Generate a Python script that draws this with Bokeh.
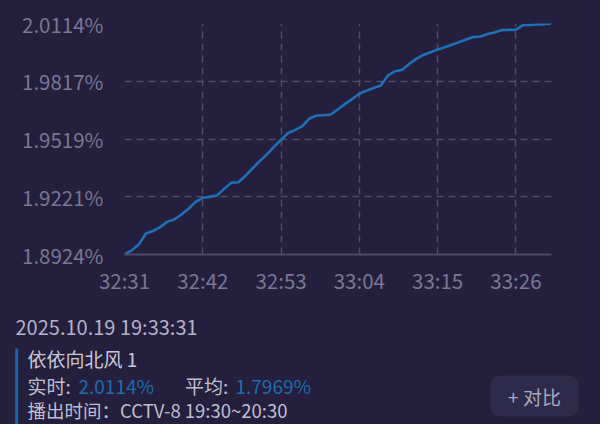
from bokeh.plotting import figure
from bokeh.models import Range1d, FixedTicker, Label, BoxAnnotation
from bokeh.layouts import column
from bokeh.embed import file_html
from bokeh.resources import INLINE

# ---- data ----
start_time = "32:31"
# one sample per second, 32:31 -> 33:31 (share, %)
share = [1.8924, 1.8945, 1.8975, 1.9032, 1.9045, 1.9065, 1.9092, 1.9105, 1.9130, 1.9160,
         1.9195, 1.9216, 1.9221, 1.9228, 1.9262, 1.9294, 1.9296, 1.9330, 1.9368, 1.9405,
         1.9440, 1.9478, 1.9515, 1.9550, 1.9566, 1.9585, 1.9625, 1.9640, 1.9641, 1.9645,
         1.9672, 1.9700, 1.9725, 1.9752, 1.9768, 1.9782, 1.9795, 1.9845, 1.9868, 1.9875,
         1.9905, 1.9932, 1.9952, 1.9966, 1.9980, 1.9992, 2.0005, 2.0018, 2.0032, 2.0044,
         2.0047, 2.0060, 2.0068, 2.0080, 2.0081, 2.0082, 2.0106, 2.0107, 2.0109, 2.0111,
         2.0114]
x_tick_labels = ["32:31", "32:42", "32:53", "33:04", "33:15", "33:26"]
y_tick_labels = ["1.8924%", "1.9221%", "1.9519%", "1.9817%", "2.0114%"]
timestamp = "2025.10.19 19:33:31"
series_name = "依依向北风 1"
avg_value = 1.7969
broadcast = "播出时间：CCTV-8 19:30~20:30"

BG = "#231f3c"
GRID = "#4e4a69"
TICK = "#7a7792"
LINE = "#2070b5"
FONT = "Noto Sans CJK SC"


def to_sec(s):
    m, sec = s.split(":")
    return int(m) * 60 + int(sec)


t0 = to_sec(start_time)
xs = list(range(len(share)))
x_ticks = [to_sec(s) - t0 for s in x_tick_labels]
y_ticks = [float(s.rstrip("%")) for s in y_tick_labels]

p = figure(width=600, height=300, output_backend="svg", toolbar_location=None,
           x_range=Range1d(0, 60), y_range=Range1d(y_ticks[0], y_ticks[-1]),
           min_border_left=124, min_border_right=49, min_border_top=23, min_border_bottom=46,
           background_fill_color=BG, border_fill_color=BG, outline_line_color=None)

p.line(xs, share, line_color=LINE, line_width=2.6)

p.xaxis.ticker = FixedTicker(ticks=x_ticks)
p.xaxis.major_label_overrides = {t: l for t, l in zip(x_ticks, x_tick_labels)}
p.yaxis.ticker = FixedTicker(ticks=y_ticks)
p.yaxis.major_label_overrides = {t: l for t, l in zip(y_ticks, y_tick_labels)}
for ax in (p.xaxis, p.yaxis):
    ax.major_tick_line_color = None
    ax.minor_tick_line_color = None
    ax.major_tick_out = 0
    ax.major_tick_in = 0
    ax.minor_tick_out = 0
    ax.axis_label_standoff = 0
    ax.major_label_text_color = TICK
    ax.major_label_text_font = FONT
    ax.major_label_text_font_size = "20.5px"
p.xaxis.axis_line_color = "#4d4a6b"
p.xaxis.axis_line_width = 2
p.xaxis.major_label_standoff = 10
p.yaxis.axis_line_color = None
p.yaxis.major_label_standoff = 21

p.xgrid.ticker = FixedTicker(ticks=x_ticks)
p.ygrid.ticker = FixedTicker(ticks=y_ticks[1:])
for g in (p.xgrid, p.ygrid):
    g.grid_line_color = GRID
    g.grid_line_dash = "7 5"
    g.grid_line_width = 1.5

# ---- info panel: its own figure, ranges in pixels (y downwards) ----
q = figure(width=600, height=124, output_backend="svg", toolbar_location=None,
           x_range=Range1d(0, 600), y_range=Range1d(124, 0),
           min_border=0, x_axis_location=None, y_axis_location=None,
           background_fill_color=BG, border_fill_color=BG, outline_line_color=None)
q.xgrid.visible = False
q.ygrid.visible = False

for fig in (p, q):
    try:
        fig.frame_align = False
    except AttributeError:
        pass


def lab(x, y, text, color, size="19px", align="left"):
    q.add_layout(Label(x=x, y=y, text=text, text_color=color, text_font=FONT,
                       text_font_size=size, text_baseline="middle", text_align=align))


def box(left, right, top, bottom, color, radius=0):
    q.add_layout(BoxAnnotation(left=left, right=right, top=top, bottom=bottom,
                               fill_color=color, fill_alpha=1, line_color=None,
                               border_radius=radius))


box(14.7, 17.7, 48, 124, "#1d62a6")
box(490, 578, 75, 116, "#2e2a4a", 9)

lab(15, 25.5, timestamp, "#b4b2c6", "20px")
lab(27, 58, series_name, "#c9c7d9")
lab(27, 85, "实时:", "#c0bed0")
lab(78, 85, f"{share[-1]:.4f}%", "#1f6cb0")
lab(184.5, 85, "平均:", "#c0bed0")
lab(235, 85, f"{avg_value:.4f}%", "#1f6cb0")
lab(27, 109, broadcast, "#c0bed0", "18.5px")
lab(534, 96, "+ 对比", "#aaa8c0", "19px", "center")

layout = column(p, q, spacing=0, styles={"background-color": BG})
open("out.html", "w").write(file_html(layout, INLINE))
